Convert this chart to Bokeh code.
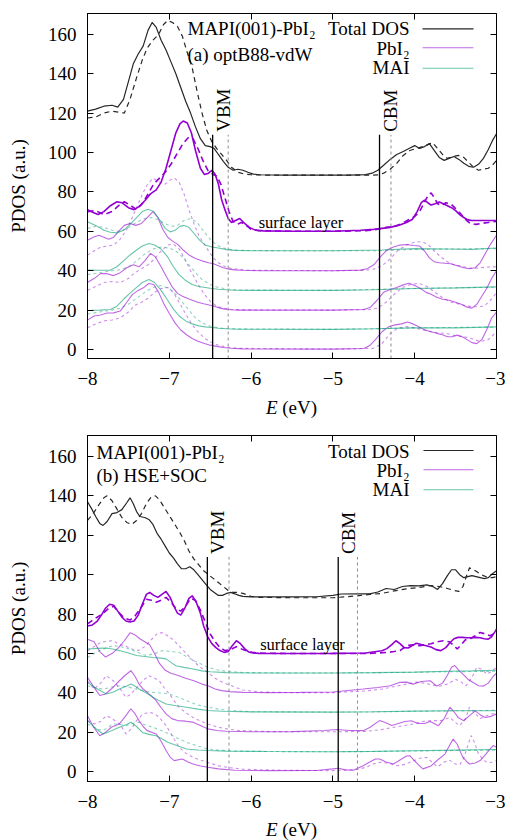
import math
from bokeh.plotting import figure
from bokeh.models import Label, LinearAxis, FixedTicker, Range1d, Div
from bokeh.layouts import column
from bokeh.embed import file_html
from bokeh.resources import INLINE

# ---------------- data ----------------
E_TICKS = [-8, -7, -6, -5, -4, -3]
PDOS_TICKS = [0, 20, 40, 60, 80, 100, 120, 140, 160]
E_RANGE = (-8.0, -3.0)
PDOS_RANGE_A = (-4.57, 170.56)
PDOS_RANGE_B = (-4.9, 170.6)

# band edges: (solid line, grey dashed reference line)
vbm_a, vbm_ref_a, cbm_a, cbm_ref_a = -6.47, -6.28, -4.43, -4.29
vbm_b, vbm_ref_b, cbm_b, cbm_ref_b = -6.535, -6.27, -4.935, -4.70
edge_top = 109.0

# ---- panel (a) optB88-vdW ----
tot_a_sol = [(-8.0,121.0),(-7.9,122.0),(-7.8,123.5),(-7.7,124.0),(-7.63,123.0),(-7.56,127.0),(-7.5,136.0),(-7.44,145.0),(-7.38,150.0),(-7.32,154.0),(-7.26,162.0),(-7.21,166.0),(-7.16,163.5),(-7.1,157.0),(-7.04,152.0),(-6.98,146.0),(-6.92,140.0),(-6.86,133.0),(-6.8,126.0),(-6.74,120.0),(-6.68,113.0),(-6.62,107.0),(-6.56,103.5),(-6.5,103.0),(-6.45,102.0),(-6.4,99.0),(-6.34,95.5),(-6.28,92.5),(-6.22,91.0),(-6.16,91.5),(-6.1,91.0),(-6.04,90.0),(-5.97,89.0),(-5.9,88.7),(-5.6,88.5),(-5.2,88.5),(-4.8,88.5),(-4.6,88.8),(-4.52,89.5),(-4.45,91.0),(-4.38,93.5),(-4.3,96.5),(-4.22,99.0),(-4.14,100.5),(-4.07,102.0),(-4.0,103.5),(-3.94,102.0),(-3.88,103.0),(-3.82,104.5),(-3.76,101.0),(-3.7,97.5),(-3.64,96.0),(-3.58,97.0),(-3.52,98.0),(-3.46,96.5),(-3.4,94.5),(-3.34,93.0),(-3.28,92.5),(-3.22,94.0),(-3.16,97.0),(-3.1,101.5),(-3.05,106.0),(-3.0,109.5)]
tot_a_das = [(-8.0,117.5),(-7.9,118.0),(-7.8,120.0),(-7.7,121.0),(-7.62,120.5),(-7.55,120.0),(-7.48,127.0),(-7.4,138.0),(-7.33,147.0),(-7.27,153.0),(-7.2,157.0),(-7.13,160.0),(-7.07,165.0),(-7.02,167.0),(-6.96,166.0),(-6.9,164.0),(-6.84,159.0),(-6.79,152.0),(-6.72,143.0),(-6.66,131.0),(-6.6,120.0),(-6.54,111.0),(-6.48,105.5),(-6.42,102.0),(-6.36,99.0),(-6.3,96.0),(-6.24,92.5),(-6.16,90.0),(-6.08,89.0),(-6.0,88.7),(-5.8,88.5),(-5.2,88.5),(-4.6,88.5),(-4.45,88.6),(-4.38,89.5),(-4.3,91.5),(-4.22,94.5),(-4.14,98.5),(-4.06,101.0),(-3.98,102.0),(-3.9,103.0),(-3.84,104.0),(-3.78,105.0),(-3.72,102.0),(-3.66,99.0),(-3.6,97.0),(-3.53,98.0),(-3.46,98.5),(-3.4,97.5),(-3.34,95.0),(-3.28,92.5),(-3.22,91.0),(-3.16,91.5),(-3.1,92.0),(-3.04,94.0),(-3.0,96.0)]
srf_a_sol = [(-8.0,71.0),(-7.93,69.5),(-7.87,68.5),(-7.8,70.0),(-7.72,73.0),(-7.64,75.0),(-7.58,74.5),(-7.5,72.0),(-7.43,71.0),(-7.37,72.5),(-7.3,75.5),(-7.23,79.0),(-7.16,81.0),(-7.1,85.0),(-7.04,92.0),(-6.98,101.0),(-6.92,110.0),(-6.87,114.5),(-6.83,116.0),(-6.78,115.0),(-6.73,110.0),(-6.68,101.0),(-6.62,92.0),(-6.57,88.8),(-6.52,89.5),(-6.48,91.0),(-6.44,89.0),(-6.4,84.0),(-6.36,76.0),(-6.32,71.0),(-6.28,66.5),(-6.24,64.5),(-6.19,65.5),(-6.14,66.5),(-6.08,64.0),(-6.02,62.0),(-5.95,60.6),(-5.85,60.2),(-5.5,60.0),(-5.0,60.0),(-4.66,60.5),(-4.5,61.0),(-4.4,61.5),(-4.3,62.0),(-4.2,63.0),(-4.1,64.5),(-4.03,66.0),(-3.97,70.0),(-3.92,74.5),(-3.88,75.8),(-3.84,74.5),(-3.8,73.3),(-3.75,74.0),(-3.7,74.9),(-3.65,74.0),(-3.6,73.0),(-3.55,72.0),(-3.5,70.5),(-3.45,68.5),(-3.4,67.0),(-3.35,65.8),(-3.3,65.5),(-3.2,65.5),(-3.1,65.5),(-3.0,65.5)]
srf_a_das = [(-8.0,70.0),(-7.9,70.5),(-7.8,68.5),(-7.7,70.0),(-7.62,73.0),(-7.55,75.0),(-7.47,73.0),(-7.4,71.0),(-7.33,74.0),(-7.26,79.0),(-7.19,84.0),(-7.12,87.0),(-7.05,90.0),(-6.98,94.0),(-6.91,99.0),(-6.84,104.0),(-6.77,107.5),(-6.71,107.0),(-6.65,102.0),(-6.59,96.0),(-6.53,91.0),(-6.47,89.0),(-6.42,88.0),(-6.37,84.0),(-6.32,77.0),(-6.27,70.0),(-6.22,65.0),(-6.17,63.5),(-6.12,64.5),(-6.06,63.0),(-6.0,61.0),(-5.9,60.3),(-5.5,60.0),(-5.0,60.0),(-4.6,60.3),(-4.45,61.0),(-4.35,62.0),(-4.25,62.5),(-4.15,64.0),(-4.07,66.0),(-4.0,67.5),(-3.94,70.0),(-3.89,74.0),(-3.84,78.0),(-3.8,79.5),(-3.76,77.0),(-3.72,74.0),(-3.67,73.0),(-3.62,74.5),(-3.56,74.0),(-3.5,71.5),(-3.44,69.0),(-3.38,66.0),(-3.32,64.0),(-3.25,63.5),(-3.18,64.0),(-3.1,64.5),(-3.0,65.0)]
mai50_a_sol = [(-8.0,64.8),(-7.9,63.0),(-7.8,60.5),(-7.72,59.5),(-7.64,59.2),(-7.56,60.5),(-7.48,63.5),(-7.4,67.0),(-7.33,70.0),(-7.26,71.2),(-7.19,70.0),(-7.12,66.0),(-7.05,61.5),(-6.99,59.7),(-6.93,60.5),(-6.87,62.5),(-6.82,63.0),(-6.76,62.0),(-6.7,59.0),(-6.63,55.5),(-6.56,53.0),(-6.48,52.0),(-6.4,51.5),(-6.3,50.7),(-6.2,50.3),(-6.0,50.1),(-5.0,50.1),(-4.4,50.5),(-4.0,51.2),(-3.6,51.0),(-3.3,50.8),(-3.0,51.5)]
mai50_a_das = [(-8.0,61.5),(-7.9,62.5),(-7.8,62.0),(-7.7,60.5),(-7.62,60.0),(-7.54,61.0),(-7.46,63.0),(-7.38,65.0),(-7.3,66.5),(-7.22,67.0),(-7.14,66.0),(-7.06,64.0),(-6.98,62.5),(-6.9,63.0),(-6.82,65.5),(-6.74,66.5),(-6.66,64.5),(-6.58,60.0),(-6.5,56.0),(-6.42,53.0),(-6.34,51.5),(-6.24,50.7),(-6.1,50.3),(-5.5,50.1),(-4.5,50.1),(-4.0,50.8),(-3.5,51.0),(-3.0,51.2)]
pbi40_a_sol = [(-8.0,55.5),(-7.93,57.0),(-7.86,58.0),(-7.8,57.0),(-7.74,56.0),(-7.68,57.0),(-7.62,60.0),(-7.55,63.0),(-7.48,64.0),(-7.41,63.0),(-7.34,64.0),(-7.27,67.0),(-7.2,70.0),(-7.14,67.0),(-7.08,61.0),(-7.02,57.0),(-6.96,55.0),(-6.9,53.5),(-6.83,50.5),(-6.76,48.0),(-6.68,46.2),(-6.6,45.0),(-6.52,44.0),(-6.46,43.5),(-6.4,42.5),(-6.34,41.5),(-6.27,40.8),(-6.2,40.4),(-6.1,40.2),(-5.9,40.0),(-5.0,40.0),(-4.66,40.3),(-4.58,41.0),(-4.5,43.0),(-4.42,47.0),(-4.34,50.5),(-4.26,52.0),(-4.18,53.0),(-4.1,53.3),(-4.02,52.8),(-3.94,52.5),(-3.88,50.0),(-3.82,46.5),(-3.76,44.5),(-3.7,44.0),(-3.63,43.8),(-3.56,43.5),(-3.48,42.5),(-3.4,41.5),(-3.33,41.0),(-3.26,41.5),(-3.2,44.0),(-3.14,48.5),(-3.08,53.0),(-3.0,58.0)]
pbi40_a_das = [(-8.0,48.0),(-7.92,50.0),(-7.84,52.0),(-7.76,52.5),(-7.68,53.0),(-7.6,56.0),(-7.52,61.0),(-7.44,68.0),(-7.36,76.0),(-7.28,83.0),(-7.2,87.0),(-7.12,85.0),(-7.05,84.0),(-6.99,86.0),(-6.94,87.0),(-6.88,85.0),(-6.82,79.0),(-6.76,71.0),(-6.7,64.0),(-6.64,58.0),(-6.58,54.0),(-6.52,50.0),(-6.46,46.5),(-6.4,44.0),(-6.34,42.5),(-6.26,41.3),(-6.15,40.6),(-6.0,40.2),(-5.0,40.0),(-4.6,40.2),(-4.5,40.8),(-4.4,42.5),(-4.3,46.0),(-4.2,50.5),(-4.1,53.0),(-4.0,54.5),(-3.92,54.7),(-3.84,53.5),(-3.76,50.0),(-3.68,47.0),(-3.6,44.5),(-3.52,43.0),(-3.44,42.5),(-3.36,41.5),(-3.28,41.2),(-3.2,41.5),(-3.12,41.8),(-3.0,42.0)]
mai30_a_sol = [(-8.0,40.3),(-7.85,40.2),(-7.72,40.3),(-7.64,42.0),(-7.56,45.0),(-7.48,48.0),(-7.4,50.5),(-7.33,52.5),(-7.25,53.8),(-7.18,53.0),(-7.1,51.0),(-7.02,47.0),(-6.95,42.0),(-6.88,38.0),(-6.8,35.0),(-6.72,33.0),(-6.64,32.0),(-6.56,31.5),(-6.48,31.0),(-6.4,30.6),(-6.3,30.3),(-6.2,30.1),(-6.0,30.0),(-5.0,30.0),(-4.5,30.3),(-4.0,31.0),(-3.5,31.3),(-3.0,31.8)]
mai30_a_das = [(-8.0,38.0),(-7.85,39.0),(-7.7,40.0),(-7.6,40.5),(-7.5,42.0),(-7.4,45.0),(-7.3,48.5),(-7.2,51.0),(-7.1,52.0),(-7.0,51.5),(-6.92,50.0),(-6.84,47.0),(-6.76,43.0),(-6.68,39.0),(-6.6,35.5),(-6.5,33.0),(-6.4,31.5),(-6.3,30.7),(-6.15,30.2),(-5.0,30.0),(-4.5,30.5),(-4.0,31.0),(-3.5,31.3),(-3.0,31.6)]
pbi20_a_sol = [(-8.0,34.0),(-7.92,36.0),(-7.84,38.5),(-7.76,38.5),(-7.68,37.5),(-7.6,39.0),(-7.52,41.5),(-7.44,43.0),(-7.37,42.0),(-7.3,45.0),(-7.23,48.8),(-7.17,47.0),(-7.1,42.0),(-7.03,36.5),(-6.96,31.5),(-6.9,28.5),(-6.84,27.0),(-6.78,26.0),(-6.72,25.0),(-6.65,24.0),(-6.58,23.2),(-6.5,22.5),(-6.44,21.8),(-6.38,21.0),(-6.32,20.5),(-6.25,20.2),(-6.15,20.0),(-6.0,20.0),(-5.0,20.0),(-4.62,20.3),(-4.54,21.5),(-4.46,25.0),(-4.38,29.0),(-4.3,30.5),(-4.22,31.5),(-4.14,32.8),(-4.07,33.6),(-4.0,32.5),(-3.93,31.0),(-3.86,29.0),(-3.8,28.0),(-3.73,26.5),(-3.66,25.5),(-3.58,25.0),(-3.5,24.0),(-3.43,23.0),(-3.36,21.5),(-3.3,21.0),(-3.24,23.0),(-3.18,27.0),(-3.12,31.0),(-3.06,36.0),(-3.0,40.0)]
pbi20_a_das = [(-8.0,30.0),(-7.9,32.0),(-7.8,34.0),(-7.7,34.5),(-7.6,34.0),(-7.5,36.0),(-7.42,39.0),(-7.34,41.0),(-7.26,43.0),(-7.18,46.0),(-7.1,50.0),(-7.02,53.0),(-6.95,53.5),(-6.88,51.0),(-6.81,46.0),(-6.74,40.0),(-6.66,34.0),(-6.58,28.5),(-6.5,24.5),(-6.42,22.0),(-6.34,21.0),(-6.25,20.4),(-6.12,20.1),(-5.0,20.0),(-4.55,20.3),(-4.45,21.0),(-4.35,24.0),(-4.25,28.0),(-4.15,31.5),(-4.05,33.0),(-3.95,33.6),(-3.85,32.0),(-3.75,29.0),(-3.65,26.0),(-3.55,24.0),(-3.45,23.0),(-3.35,22.0),(-3.25,21.7),(-3.15,22.0),(-3.05,26.0),(-3.0,29.0)]
mai10_a_sol = [(-8.0,19.8),(-7.85,20.0),(-7.72,20.3),(-7.64,22.0),(-7.56,25.5),(-7.48,28.6),(-7.4,31.5),(-7.33,34.0),(-7.25,35.5),(-7.18,34.0),(-7.1,30.0),(-7.02,25.0),(-6.95,20.5),(-6.88,17.0),(-6.8,14.5),(-6.72,13.0),(-6.64,12.0),(-6.56,11.5),(-6.48,11.2),(-6.4,10.8),(-6.3,10.5),(-6.15,10.3),(-5.0,10.2),(-4.5,10.5),(-4.0,11.0),(-3.5,11.0),(-3.0,11.5)]
mai10_a_das = [(-8.0,18.0),(-7.85,19.0),(-7.7,20.0),(-7.6,21.0),(-7.5,23.0),(-7.4,26.0),(-7.3,29.0),(-7.2,31.5),(-7.1,32.5),(-7.0,31.0),(-6.92,28.0),(-6.84,24.0),(-6.76,20.0),(-6.68,16.0),(-6.6,13.5),(-6.5,11.8),(-6.4,11.0),(-6.25,10.5),(-5.0,10.2),(-4.5,10.5),(-4.0,11.0),(-3.5,11.2),(-3.0,11.4)]
pbi0_a_sol = [(-8.0,14.9),(-7.92,17.0),(-7.84,17.5),(-7.76,18.5),(-7.68,18.6),(-7.6,19.5),(-7.52,24.0),(-7.45,28.0),(-7.38,30.0),(-7.31,31.5),(-7.25,33.5),(-7.19,33.0),(-7.13,29.0),(-7.07,23.5),(-7.0,18.3),(-6.93,13.5),(-6.86,9.9),(-6.79,7.5),(-6.72,5.6),(-6.65,4.2),(-6.58,3.2),(-6.5,2.2),(-6.42,1.6),(-6.34,1.0),(-6.25,0.6),(-6.1,0.3),(-5.0,0.2),(-4.62,0.5),(-4.55,2.0),(-4.48,5.0),(-4.4,9.0),(-4.32,11.5),(-4.24,12.5),(-4.16,13.0),(-4.09,14.0),(-4.02,13.0),(-3.95,11.5),(-3.88,10.0),(-3.8,9.0),(-3.73,8.2),(-3.66,7.5),(-3.6,6.5),(-3.54,6.5),(-3.48,7.3),(-3.42,6.5),(-3.36,5.0),(-3.3,3.5),(-3.24,3.0),(-3.18,5.0),(-3.12,10.0),(-3.06,16.0),(-3.0,19.0)]
pbi0_a_das = [(-8.0,11.0),(-7.9,13.0),(-7.8,14.5),(-7.7,15.0),(-7.6,16.0),(-7.5,19.0),(-7.42,22.5),(-7.34,24.0),(-7.26,26.0),(-7.18,29.0),(-7.1,31.0),(-7.02,31.5),(-6.95,29.0),(-6.88,24.0),(-6.8,18.0),(-6.72,12.5),(-6.64,8.5),(-6.56,5.5),(-6.48,3.5),(-6.4,2.2),(-6.3,1.2),(-6.15,0.6),(-5.0,0.2),(-4.5,0.6),(-4.4,3.0),(-4.3,8.0),(-4.2,11.0),(-4.1,11.6),(-4.0,11.0),(-3.9,10.0),(-3.8,9.0),(-3.7,8.5),(-3.6,8.0),(-3.5,7.0),(-3.4,6.5),(-3.3,5.5),(-3.2,4.0),(-3.1,5.0),(-3.0,9.0)]

# ---- panel (b) HSE+SOC ----
tot_b_sol = [(-8.0,137.0),(-7.95,133.5),(-7.9,129.5),(-7.85,126.0),(-7.81,125.0),(-7.76,127.0),(-7.7,131.0),(-7.64,131.5),(-7.58,133.0),(-7.52,136.5),(-7.48,139.0),(-7.44,136.0),(-7.4,132.0),(-7.36,129.5),(-7.3,129.0),(-7.25,128.0),(-7.2,125.5),(-7.15,121.0),(-7.1,118.0),(-7.05,114.5),(-7.0,111.0),(-6.95,108.5),(-6.9,105.5),(-6.85,103.0),(-6.8,103.0),(-6.75,104.0),(-6.7,102.5),(-6.65,100.0),(-6.6,97.5),(-6.55,95.0),(-6.5,92.5),(-6.45,91.0),(-6.4,89.5),(-6.35,89.5),(-6.3,90.5),(-6.25,91.0),(-6.2,90.3),(-6.15,89.5),(-6.1,89.0),(-6.0,88.7),(-5.9,88.7),(-5.5,88.7),(-5.2,88.8),(-5.0,89.5),(-4.9,90.2),(-4.7,90.3),(-4.55,90.3),(-4.45,91.2),(-4.35,93.0),(-4.25,92.5),(-4.15,94.0),(-4.05,94.5),(-3.95,94.3),(-3.85,94.8),(-3.78,94.0),(-3.72,92.5),(-3.66,95.5),(-3.6,99.5),(-3.55,102.5),(-3.5,102.5),(-3.45,100.0),(-3.4,98.5),(-3.35,99.0),(-3.3,99.5),(-3.25,99.0),(-3.2,98.5),(-3.15,98.0),(-3.1,98.5),(-3.05,100.5),(-3.0,102.0)]
tot_b_das = [(-8.0,127.5),(-7.93,131.0),(-7.86,135.5),(-7.8,139.0),(-7.76,140.0),(-7.7,137.5),(-7.65,134.0),(-7.58,129.0),(-7.52,126.5),(-7.46,125.5),(-7.4,127.5),(-7.34,131.0),(-7.28,136.0),(-7.22,139.5),(-7.17,140.0),(-7.12,138.0),(-7.06,134.0),(-7.0,130.0),(-6.94,126.0),(-6.88,122.0),(-6.82,117.5),(-6.76,112.0),(-6.7,108.0),(-6.64,105.0),(-6.58,102.0),(-6.52,100.0),(-6.46,98.0),(-6.4,96.0),(-6.34,94.0),(-6.28,92.0),(-6.22,91.0),(-6.16,91.0),(-6.1,90.5),(-6.0,89.0),(-5.9,88.5),(-5.5,88.3),(-5.0,88.3),(-4.85,88.8),(-4.7,89.3),(-4.55,90.0),(-4.4,90.5),(-4.25,91.8),(-4.1,92.8),(-3.95,93.5),(-3.8,94.5),(-3.7,94.0),(-3.6,93.0),(-3.52,92.0),(-3.46,91.5),(-3.41,94.0),(-3.37,99.0),(-3.33,103.5),(-3.28,102.5),(-3.22,101.0),(-3.16,99.5),(-3.1,98.5),(-3.05,98.5),(-3.0,99.0)]
srf_b_sol = [(-8.0,74.0),(-7.94,74.5),(-7.88,76.5),(-7.83,79.5),(-7.78,83.0),(-7.73,85.0),(-7.68,84.5),(-7.63,81.5),(-7.58,78.5),(-7.53,76.5),(-7.48,76.0),(-7.43,76.5),(-7.38,79.5),(-7.33,85.0),(-7.28,90.0),(-7.24,91.0),(-7.19,89.5),(-7.14,88.5),(-7.09,90.0),(-7.04,91.5),(-6.99,88.5),(-6.95,84.5),(-6.9,80.5),(-6.86,79.5),(-6.81,83.0),(-6.76,88.0),(-6.72,89.3),(-6.67,86.0),(-6.62,80.5),(-6.58,74.0),(-6.53,68.5),(-6.48,65.0),(-6.43,63.0),(-6.38,61.5),(-6.33,60.6),(-6.28,61.0),(-6.23,64.0),(-6.18,66.5),(-6.13,65.0),(-6.08,62.5),(-6.03,60.8),(-5.98,60.3),(-5.9,60.1),(-5.5,60.0),(-5.0,60.1),(-4.6,60.3),(-4.4,61.4),(-4.34,62.5),(-4.28,64.5),(-4.23,66.5),(-4.18,65.0),(-4.13,63.0),(-4.08,62.8),(-4.03,64.0),(-3.98,65.2),(-3.92,64.6),(-3.86,64.0),(-3.8,63.3),(-3.74,62.0),(-3.68,61.5),(-3.62,63.0),(-3.57,65.5),(-3.52,67.5),(-3.47,68.2),(-3.42,68.2),(-3.36,68.0),(-3.3,68.0),(-3.25,68.2),(-3.2,68.0),(-3.15,67.5),(-3.1,67.3),(-3.06,68.5),(-3.02,71.0),(-3.0,72.4)]
srf_b_das = [(-8.0,75.0),(-7.9,78.0),(-7.82,80.0),(-7.74,83.0),(-7.68,84.0),(-7.62,81.0),(-7.55,78.0),(-7.48,77.0),(-7.42,79.0),(-7.35,83.0),(-7.28,87.5),(-7.22,87.0),(-7.16,86.0),(-7.1,87.0),(-7.04,88.5),(-6.98,86.0),(-6.92,83.0),(-6.86,81.5),(-6.8,84.0),(-6.74,88.0),(-6.68,87.0),(-6.62,82.0),(-6.56,76.0),(-6.5,70.0),(-6.44,66.0),(-6.38,63.0),(-6.32,61.5),(-6.25,62.0),(-6.18,63.5),(-6.1,62.0),(-6.02,60.8),(-5.9,60.2),(-5.5,60.0),(-5.0,60.0),(-4.6,60.0),(-4.35,60.5),(-4.25,61.0),(-4.18,61.5),(-4.1,64.0),(-4.02,64.5),(-3.94,64.0),(-3.87,64.5),(-3.8,65.0),(-3.72,66.0),(-3.65,66.5),(-3.58,66.0),(-3.52,64.0),(-3.48,62.3),(-3.43,64.5),(-3.38,67.0),(-3.33,67.3),(-3.26,69.0),(-3.2,70.7),(-3.14,70.0),(-3.08,69.0),(-3.03,70.0),(-3.0,70.7)]
pbi40_b_sol = [(-8.0,67.3),(-7.92,66.0),(-7.85,61.0),(-7.78,58.2),(-7.7,60.0),(-7.62,63.0),(-7.55,66.5),(-7.48,70.5),(-7.42,69.5),(-7.36,67.5),(-7.3,66.0),(-7.24,64.5),(-7.18,60.0),(-7.12,55.0),(-7.05,51.5),(-6.98,50.0),(-6.9,49.0),(-6.8,47.5),(-6.7,46.2),(-6.6,44.5),(-6.52,43.5),(-6.44,42.0),(-6.36,41.2),(-6.26,40.7),(-6.1,40.3),(-5.8,40.2),(-5.4,40.3),(-5.0,40.5),(-4.63,42.0),(-4.45,42.8),(-4.3,43.7),(-4.18,45.4),(-4.1,45.5),(-4.02,44.5),(-3.92,45.8),(-3.81,46.2),(-3.73,43.5),(-3.66,45.0),(-3.6,49.0),(-3.55,53.0),(-3.51,53.9),(-3.46,51.5),(-3.41,49.6),(-3.35,47.0),(-3.29,45.4),(-3.22,43.7),(-3.16,43.5),(-3.1,45.0),(-3.04,48.5),(-3.0,50.0)]
pbi40_b_das = [(-8.0,61.4),(-7.92,63.5),(-7.84,65.6),(-7.76,66.2),(-7.69,66.5),(-7.6,64.5),(-7.52,63.5),(-7.44,62.0),(-7.38,61.5),(-7.3,63.5),(-7.22,67.0),(-7.14,70.5),(-7.08,70.5),(-7.0,68.5),(-6.94,66.5),(-6.86,63.0),(-6.78,59.5),(-6.7,56.0),(-6.62,53.0),(-6.53,50.4),(-6.44,47.5),(-6.35,45.4),(-6.28,44.3),(-6.2,43.0),(-6.1,41.5),(-5.9,40.5),(-5.5,40.2),(-5.0,40.2),(-4.6,41.0),(-4.4,42.0),(-4.22,43.5),(-4.1,44.5),(-3.98,45.5),(-3.88,45.0),(-3.78,44.0),(-3.69,43.5),(-3.6,44.5),(-3.5,47.0),(-3.43,45.5),(-3.37,43.7),(-3.3,48.0),(-3.24,53.0),(-3.18,52.0),(-3.12,49.6),(-3.06,51.0),(-3.0,53.0)]
mai50_b_sol = [(-8.0,62.3),(-7.88,62.6),(-7.77,62.8),(-7.68,62.2),(-7.61,61.5),(-7.5,60.3),(-7.4,59.0),(-7.3,58.5),(-7.2,58.0),(-7.1,57.7),(-7.04,57.3),(-6.98,55.5),(-6.92,53.8),(-6.82,53.0),(-6.71,52.2),(-6.6,51.2),(-6.5,50.8),(-6.3,50.3),(-6.0,50.1),(-5.0,50.1),(-4.5,50.3),(-4.0,50.6),(-3.6,51.0),(-3.3,51.2),(-3.0,51.5)]
mai50_b_das = [(-8.0,58.0),(-7.92,60.0),(-7.85,61.5),(-7.76,63.0),(-7.69,64.0),(-7.6,63.5),(-7.49,62.3),(-7.38,60.5),(-7.28,59.0),(-7.18,60.0),(-7.08,61.5),(-6.98,61.0),(-6.88,60.6),(-6.79,58.5),(-6.7,56.4),(-6.6,54.5),(-6.53,53.0),(-6.42,51.8),(-6.3,51.0),(-6.1,50.4),(-5.5,50.1),(-5.0,50.1),(-4.5,50.3),(-4.0,50.5),(-3.5,50.8),(-3.0,51.0)]
pbi20_b_sol = [(-8.0,48.0),(-7.93,43.5),(-7.85,38.7),(-7.78,39.5),(-7.71,42.0),(-7.61,46.2),(-7.54,49.0),(-7.47,51.3),(-7.42,48.5),(-7.37,44.5),(-7.32,42.0),(-7.27,40.3),(-7.22,38.5),(-7.16,36.1),(-7.1,32.5),(-7.04,29.4),(-6.97,27.0),(-6.9,26.0),(-6.8,25.7),(-6.71,25.2),(-6.62,23.5),(-6.53,21.8),(-6.42,21.0),(-6.3,20.6),(-6.0,20.3),(-5.5,20.4),(-5.1,21.0),(-4.95,21.5),(-4.8,21.0),(-4.63,20.9),(-4.55,22.5),(-4.43,26.0),(-4.36,25.0),(-4.28,23.5),(-4.22,24.3),(-4.12,25.5),(-4.04,25.9),(-3.96,24.5),(-3.88,24.5),(-3.81,25.5),(-3.71,23.4),(-3.64,27.0),(-3.57,32.8),(-3.52,30.5),(-3.47,27.6),(-3.4,25.9),(-3.33,28.5),(-3.26,30.9),(-3.2,29.0),(-3.14,27.6),(-3.08,28.0),(-3.0,29.4)]
pbi20_b_das = [(-8.0,46.2),(-7.92,42.0),(-7.84,45.0),(-7.77,48.8),(-7.68,46.0),(-7.6,42.0),(-7.53,37.8),(-7.47,39.5),(-7.41,42.0),(-7.33,46.0),(-7.25,48.8),(-7.18,47.5),(-7.12,46.0),(-7.06,42.5),(-7.0,39.5),(-6.94,36.0),(-6.88,32.8),(-6.8,30.0),(-6.71,27.6),(-6.62,25.8),(-6.53,24.3),(-6.42,22.8),(-6.3,21.8),(-6.15,21.0),(-5.8,20.4),(-5.0,20.3),(-4.6,20.5),(-4.4,21.5),(-4.2,23.0),(-4.02,24.3),(-3.9,25.5),(-3.8,26.0),(-3.68,26.0),(-3.57,27.5),(-3.5,25.0),(-3.45,23.4),(-3.38,27.0),(-3.33,32.8),(-3.27,30.0),(-3.2,27.0),(-3.12,28.5),(-3.05,29.5),(-3.0,29.5)]
mai30_b_sol = [(-8.0,45.4),(-7.9,42.5),(-7.77,39.5),(-7.68,40.5),(-7.61,42.0),(-7.52,43.5),(-7.47,44.5),(-7.42,43.5),(-7.37,42.0),(-7.28,40.0),(-7.2,37.8),(-7.12,36.0),(-7.04,34.4),(-6.92,33.5),(-6.79,32.8),(-6.65,31.8),(-6.53,31.1),(-6.35,30.7),(-6.0,30.4),(-5.0,30.3),(-4.5,30.5),(-4.0,30.8),(-3.5,31.0),(-3.0,31.0)]
mai30_b_das = [(-8.0,43.7),(-7.9,42.5),(-7.81,42.0),(-7.7,43.0),(-7.61,43.7),(-7.5,43.0),(-7.41,42.0),(-7.3,41.0),(-7.2,40.3),(-7.1,40.0),(-7.0,39.5),(-6.9,38.0),(-6.79,36.1),(-6.66,34.0),(-6.53,32.8),(-6.4,31.8),(-6.25,31.1),(-6.0,30.5),(-5.0,30.3),(-4.5,30.4),(-4.0,30.7),(-3.5,31.0),(-3.0,31.2)]
pbi0_b_sol = [(-8.0,28.5),(-7.93,23.0),(-7.85,18.3),(-7.78,20.0),(-7.71,22.6),(-7.61,24.3),(-7.54,28.0),(-7.47,32.0),(-7.42,29.5),(-7.37,26.0),(-7.32,23.0),(-7.27,20.9),(-7.16,19.2),(-7.1,15.5),(-7.04,10.8),(-6.99,7.5),(-6.94,5.7),(-6.84,6.5),(-6.77,5.0),(-6.71,4.0),(-6.62,3.0),(-6.53,2.3),(-6.4,1.5),(-6.2,0.8),(-5.8,0.6),(-5.2,0.7),(-5.0,1.5),(-4.93,1.8),(-4.85,1.0),(-4.75,0.8),(-4.63,3.1),(-4.55,5.0),(-4.48,6.5),(-4.43,6.5),(-4.35,5.0),(-4.26,4.0),(-4.18,6.0),(-4.1,8.0),(-4.06,8.2),(-4.0,5.5),(-3.94,3.0),(-3.9,1.5),(-3.8,3.0),(-3.72,6.0),(-3.63,9.0),(-3.58,13.0),(-3.53,16.6),(-3.48,14.0),(-3.44,10.0),(-3.41,7.3),(-3.36,5.0),(-3.33,4.0),(-3.26,4.5),(-3.2,5.7),(-3.14,8.5),(-3.08,11.5),(-3.04,13.3),(-3.0,12.5)]
pbi0_b_das = [(-8.0,26.0),(-7.92,24.3),(-7.84,25.5),(-7.77,28.5),(-7.7,27.0),(-7.6,24.0),(-7.53,19.2),(-7.46,22.0),(-7.4,26.0),(-7.33,29.0),(-7.25,30.2),(-7.18,29.5),(-7.12,27.5),(-7.06,24.5),(-7.0,20.9),(-6.94,16.5),(-6.88,12.5),(-6.8,9.5),(-6.71,7.3),(-6.62,6.0),(-6.53,4.8),(-6.42,3.3),(-6.3,2.3),(-6.1,1.3),(-5.6,0.8),(-5.0,0.6),(-4.7,1.2),(-4.58,2.5),(-4.51,4.0),(-4.42,4.8),(-4.32,4.4),(-4.22,3.1),(-4.12,3.8),(-4.02,5.5),(-3.93,7.0),(-3.85,7.3),(-3.78,4.5),(-3.72,2.5),(-3.64,5.0),(-3.57,5.8),(-3.5,4.0),(-3.45,3.5),(-3.4,7.0),(-3.35,13.5),(-3.31,18.4),(-3.27,15.0),(-3.22,9.0),(-3.16,6.0),(-3.1,4.5),(-3.05,5.0),(-3.0,5.7)]
mai10_b_sol = [(-8.0,26.0),(-7.9,22.0),(-7.81,19.2),(-7.7,21.0),(-7.61,22.6),(-7.52,24.0),(-7.47,25.2),(-7.4,23.0),(-7.33,20.0),(-7.25,19.0),(-7.16,18.3),(-7.08,16.5),(-7.02,15.0),(-6.9,13.2),(-6.79,11.6),(-6.65,11.1),(-6.53,10.8),(-6.3,10.5),(-5.8,10.3),(-5.0,10.2),(-4.5,10.4),(-4.0,10.7),(-3.5,11.0),(-3.0,11.3)]
mai10_b_das = [(-8.0,24.3),(-7.9,22.0),(-7.81,20.9),(-7.75,22.5),(-7.69,24.3),(-7.6,24.0),(-7.53,23.4),(-7.45,24.5),(-7.37,25.2),(-7.28,23.5),(-7.2,22.6),(-7.1,21.0),(-7.0,19.2),(-6.9,17.0),(-6.79,15.0),(-6.66,13.2),(-6.53,11.6),(-6.4,11.0),(-6.2,10.6),(-5.8,10.3),(-5.0,10.2),(-4.5,10.3),(-4.0,10.6),(-3.5,10.8),(-3.0,11.0)]

legend_labels = ["Total DOS", "PbI\u2082", "MAI"]
system_label = "MAPI(001)-PbI\u2082"
method_labels = ["(a) optB88-vdW", "(b) HSE+SOC"]

# ---------------- style ----------------
FONT = "Liberation Serif"
FS = "19px"
PURPLE = "#9400d3"
TEAL = "#009e73"
DARK = "#262626"


def xy(pts):
    return [p[0] for p in pts], [p[1] for p in pts]


def make_panel(g, curves, edges, method, legend_px, title_px):
    p = figure(width=505, height=g["H"], x_range=Range1d(*E_RANGE),
               y_range=Range1d(*g["yr"]), output_backend="svg",
               toolbar_location=None, min_border_left=g["FL"],
               min_border_right=505 - g["FL"] - g["FW"],
               min_border_top=g["FT"],
               min_border_bottom=g["H"] - g["FT"] - g["FH"])
    p.background_fill_color = "white"
    p.border_fill_color = "white"
    p.outline_line_color = "black"
    p.outline_line_width = 1
    p.outline_line_alpha = 1
    p.grid.visible = False

    p.xaxis.ticker = FixedTicker(ticks=E_TICKS)
    p.yaxis.ticker = FixedTicker(ticks=PDOS_TICKS)
    for ax in (p.xaxis[0], p.yaxis[0]):
        ax.major_tick_in = 6
        ax.major_tick_out = 0
        ax.minor_tick_line_color = None
        ax.axis_line_color = "black"
        ax.major_tick_line_color = "black"
        ax.major_label_text_font = FONT
        ax.major_label_text_font_size = FS
        ax.major_label_text_color = "black"
    p.xaxis.major_label_standoff = 13
    p.yaxis.major_label_standoff = 11
    p.yaxis.axis_label = "PDOS (a.u.)"
    p.yaxis.axis_label_text_font = FONT
    p.yaxis.axis_label_text_font_size = FS
    p.yaxis.axis_label_text_font_style = "normal"
    p.yaxis.axis_label_text_color = "black"
    p.yaxis.axis_label_standoff = 16

    for loc, ticks in (("above", E_TICKS), ("right", PDOS_TICKS)):
        ax = LinearAxis(ticker=FixedTicker(ticks=ticks),
                        major_label_overrides={t: "" for t in ticks},
                        major_label_text_font_size="0px",
                        major_label_standoff=0, major_tick_in=6,
                        major_tick_out=0, minor_tick_line_color=None,
                        axis_line_color=None)
        p.add_layout(ax, loc)

    def xd(px):
        return E_RANGE[0] + (px - g["FL"]) / g["FW"] * (E_RANGE[1] - E_RANGE[0])

    def yd(py):
        y0, y1 = g["yr"]
        return y1 - (py - g["FT"]) / g["FH"] * (y1 - y0)

    # layer curves: dashed first, then solid
    for name in ("pbi0", "mai10", "pbi20", "mai30", "pbi40", "mai50"):
        col = PURPLE if name.startswith("pbi") else TEAL
        xs, ys = xy(curves[name + "_das"])
        p.line(xs, ys, line_color=col, line_alpha=0.45, line_width=1.1,
               line_dash="3 3")
    for name in ("pbi0", "mai10", "pbi20", "mai30", "pbi40", "mai50"):
        col = PURPLE if name.startswith("pbi") else TEAL
        xs, ys = xy(curves[name + "_sol"])
        p.line(xs, ys, line_color=col, line_alpha=0.6, line_width=1.1)
    xs, ys = xy(curves["srf_das"])
    p.line(xs, ys, line_color=PURPLE, line_width=1.6, line_dash="6 4")
    xs, ys = xy(curves["srf_sol"])
    p.line(xs, ys, line_color=PURPLE, line_width=1.6)
    xs, ys = xy(curves["tot_das"])
    p.line(xs, ys, line_color=DARK, line_width=1.2, line_dash="5 4")
    xs, ys = xy(curves["tot_sol"])
    p.line(xs, ys, line_color=DARK, line_width=1.2)

    # band edges
    vbm, vbm_ref, cbm, cbm_ref = edges
    y_bot = g["yr"][0]
    p.segment(x0=[vbm_ref, cbm_ref], y0=[y_bot, y_bot], x1=[vbm_ref, cbm_ref],
              y1=[edge_top, edge_top], line_color="#8c8c8c", line_width=1,
              line_dash="3 3")
    p.segment(x0=[vbm, cbm], y0=[y_bot, y_bot], x1=[vbm, cbm],
              y1=[edge_top, edge_top], line_color="black", line_width=1.3)
    for xv, txt in ((vbm, "VBM"), (cbm, "CBM")):
        p.add_layout(Label(x=xv, y=edge_top + 1.5, text=txt, angle=math.pi / 2,
                           text_align="left", text_baseline="top",
                           text_font=FONT, text_font_size=FS,
                           text_color="black"))

    # surface layer annotation
    p.add_layout(Label(x=xd(g["surf_px"][0]), y=yd(g["surf_px"][1]),
                       text="surface layer", text_align="center",
                       text_baseline="middle", text_font=FONT,
                       text_font_size="16.5px", text_color="black"))

    # titles
    p.add_layout(Label(x=xd(title_px[0]), y=yd(title_px[1]), text=system_label,
                       text_align="left", text_baseline="middle",
                       text_font=FONT, text_font_size=FS, text_color="black"))
    p.add_layout(Label(x=xd(title_px[0]), y=yd(title_px[2]), text=method,
                       text_align="left", text_baseline="middle",
                       text_font=FONT, text_font_size=FS, text_color="black"))

    # key
    key_styles = [dict(line_color=DARK, line_width=1.2),
                  dict(line_color=PURPLE, line_alpha=0.6, line_width=1.1),
                  dict(line_color=TEAL, line_alpha=0.6, line_width=1.1)]
    tx, sx0, sx1, rows = legend_px
    for lab, sty, (ty, ly) in zip(legend_labels, key_styles, rows):
        p.add_layout(Label(x=xd(tx), y=yd(ty), text=lab, text_align="right",
                           text_baseline="middle", text_font=FONT,
                           text_font_size=FS, text_color="black"))
        p.line([xd(sx0), xd(sx1)], [yd(ly), yd(ly)], **sty)
    return p


def x_title(height, pad_top):
    html = ('<div style="width:409px;margin-left:87px;text-align:center;'
            'font-family:\'Liberation Serif\',serif;font-size:19px;'
            'line-height:20px;padding-top:%dpx;color:#000;">'
            '<i>E</i> (eV)</div>' % pad_top)
    return Div(text=html, width=505, height=height, margin=(0, 0, 0, 0))


curves_a = dict(tot_sol=tot_a_sol, tot_das=tot_a_das, srf_sol=srf_a_sol,
                srf_das=srf_a_das, mai50_sol=mai50_a_sol, mai50_das=mai50_a_das,
                pbi40_sol=pbi40_a_sol, pbi40_das=pbi40_a_das,
                mai30_sol=mai30_a_sol, mai30_das=mai30_a_das,
                pbi20_sol=pbi20_a_sol, pbi20_das=pbi20_a_das,
                mai10_sol=mai10_a_sol, mai10_das=mai10_a_das,
                pbi0_sol=pbi0_a_sol, pbi0_das=pbi0_a_das)
curves_b = dict(tot_sol=tot_b_sol, tot_das=tot_b_das, srf_sol=srf_b_sol,
                srf_das=srf_b_das, mai50_sol=mai50_b_sol, mai50_das=mai50_b_das,
                pbi40_sol=pbi40_b_sol, pbi40_das=pbi40_b_das,
                mai30_sol=mai30_b_sol, mai30_das=mai30_b_das,
                pbi20_sol=pbi20_b_sol, pbi20_das=pbi20_b_das,
                mai10_sol=mai10_b_sol, mai10_das=mai10_b_das,
                pbi0_sol=pbi0_b_sol, pbi0_das=pbi0_b_das)

geom_a = dict(H=394, FL=87, FW=409, FT=13, FH=345, yr=PDOS_RANGE_A,
              surf_px=(300.5, 221.5))
geom_b = dict(H=397, FL=87, FW=409, FT=15, FH=346, yr=PDOS_RANGE_B,
              surf_px=(302.0, 223.5))

pa = make_panel(geom_a, curves_a, (vbm_a, vbm_ref_a, cbm_a, cbm_ref_a),
                method_labels[0],
                (409, 422, 473, [(27.5, 28.3), (47.5, 47.3), (67.0, 67.7)]),
                (187, 27.5, 54))
pb = make_panel(geom_b, curves_b, (vbm_b, vbm_ref_b, cbm_b, cbm_ref_b),
                method_labels[1],
                (409, 423, 473, [(30.5, 30.0), (49.5, 49.3), (69.0, 69.3)]),
                (96, 31.7, 55))

layout = column(pa, x_title(26, 4), pb, x_title(23, 3), spacing=0)
open("out.html", "w").write(file_html(layout, INLINE))
